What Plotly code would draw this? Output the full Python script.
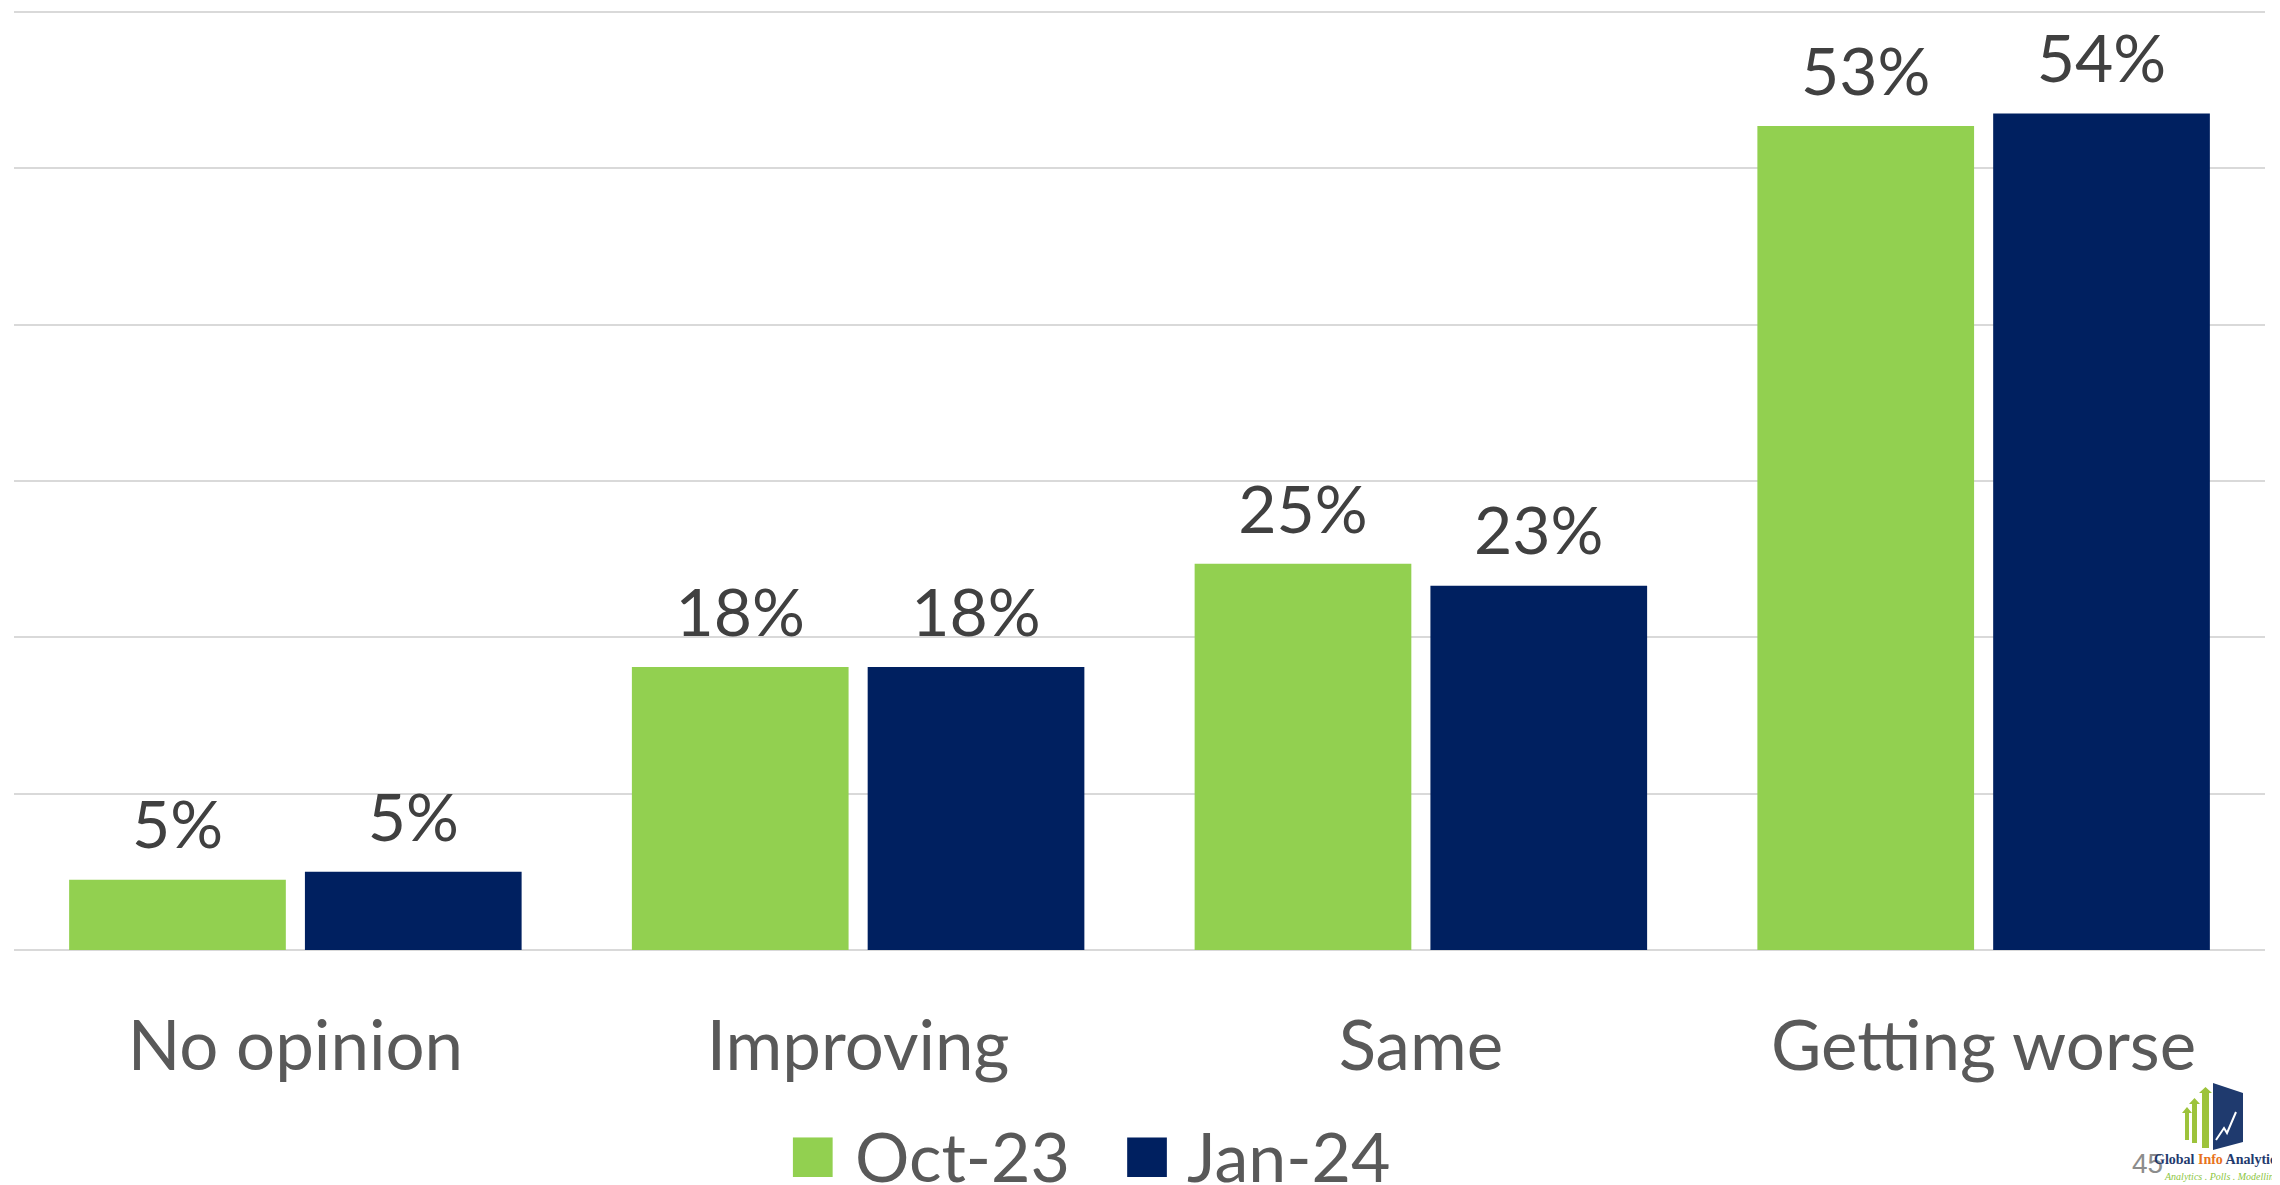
import plotly.graph_objects as go

categories = ["No opinion", "Improving", "Same", "Getting worse"]
oct23 = [4.5, 18.1, 24.7, 52.7]
jan24 = [5.0, 18.1, 23.3, 53.5]
oct23_labels = ["5%", "18%", "25%", "53%"]
jan24_labels = ["5%", "18%", "23%", "54%"]
series_names = ["Oct-23", "Jan-24"]

GREEN = "#92D050"
NAVY = "#002060"
FONT = "Lato"

# page body has an 8px margin; the figure is offset by it
OFF = 8
W, H = 2272, 1177
ML, MR, MT, MB = 6, 15, 2, 235
PW, PH = W - ML - MR, H - MT - MB
YTOP = 60 * PH / 938.0


def px(x):
    return (x - OFF - ML) / PW


def py(y):
    return (H - MB - (y - OFF)) / PH


fig = go.Figure()
for name, vals, col in [
    (series_names[0], oct23, GREEN),
    (series_names[1], jan24, NAVY),
]:
    fig.add_trace(go.Bar(
        x=categories, y=vals, name=name, marker_color=col,
        marker_line_width=0, showlegend=False,
    ))
for name, vals, labs in [
    (series_names[0], oct23, oct23_labels),
    (series_names[1], jan24, jan24_labels),
]:
    fig.add_trace(go.Scatter(
        x=categories, y=vals, name=name, mode="markers+text", text=labs,
        textposition="top center", cliponaxis=False,
        marker=dict(size=22, color="rgba(0,0,0,0)"),
        textfont=dict(family=FONT, size=66, color="#404040"),
        showlegend=False, hoverinfo="skip",
    ))

fig.update_layout(
    width=W, height=H,
    margin=dict(l=ML, r=MR, t=MT, b=MB),
    paper_bgcolor="white", plot_bgcolor="white",
    barmode="group", bargap=0.162, bargroupgap=0.081,
    scattermode="group", scattergap=0.162,
    font=dict(family=FONT),
)
fig.update_yaxes(range=[0, YTOP], tickvals=[0, 10, 20, 30, 40, 50, 60],
                 showticklabels=False,
                 gridcolor="#d9d9d9", gridwidth=2,
                 zeroline=True, zerolinecolor="#d9d9d9", zerolinewidth=2)
fig.update_xaxes(tickfont=dict(family=FONT, size=69, color="#595959"),
                 ticks="", ticklabelstandoff=50, showline=False)

# legend drawn as text
legend_text = (
    f"<span style='color:{GREEN};font-size:82px'>■</span> {series_names[0]}"
    f"&nbsp;&nbsp;&nbsp;<span style='color:{NAVY};font-size:82px'>■</span> {series_names[1]}"
)
fig.add_annotation(x=px(1089), y=py(1150), xref="paper", yref="paper",
                   text=legend_text, showarrow=False,
                   font=dict(family=FONT, size=68, color="#595959"),
                   xanchor="center", yanchor="middle")

# logo (decoration)
fig.add_shape(type="path", xref="paper", yref="paper",
              path=f"M {px(2213)} {py(1083)} L {px(2243)} {py(1093)} L {px(2243)} {py(1142)} L {px(2213)} {py(1150)} Z",
              fillcolor="#1f3a6e", line_width=0)
fig.add_shape(type="path", xref="paper", yref="paper",
              path=f"M {px(2216)} {py(1140)} L {px(2224)} {py(1128)} L {px(2227)} {py(1133)} L {px(2236)} {py(1112)}",
              line=dict(color="white", width=2))
for x0, x1, top, bot in [(2185, 2189, 1107, 1140), (2192, 2197, 1098, 1143), (2202, 2209, 1087, 1148)]:
    cx = (x0 + x1) / 2
    fig.add_shape(type="path", xref="paper", yref="paper",
                  path=(f"M {px(x0)} {py(bot)} L {px(x0)} {py(top+6)} L {px(x0-3)} {py(top+6)} "
                        f"L {px(cx)} {py(top)} L {px(x1+3)} {py(top+6)} L {px(x1)} {py(top+6)} L {px(x1)} {py(bot)} Z"),
                  fillcolor="#9dc33b", line_width=0)
fig.add_annotation(x=px(2130), y=py(1163), xref="paper", yref="paper",
                   text="45", showarrow=False, xanchor="left", yanchor="middle",
                   font=dict(family="Liberation Sans", size=28, color="#8c8c8c"))
fig.add_annotation(x=px(2152), y=py(1159), xref="paper", yref="paper",
                   text=("<b><span style='color:#1f3a6e'>Global </span>"
                         "<span style='color:#e8731c'>Info </span>"
                         "<span style='color:#1f3a6e'>Analytics</span></b>"),
                   showarrow=False, xanchor="left", yanchor="middle",
                   font=dict(family="Liberation Serif", size=14))
fig.add_annotation(x=px(2162), y=py(1176), xref="paper", yref="paper",
                   text="<i>Analytics . Polls . Modelling</i>", showarrow=False,
                   xanchor="left", yanchor="middle",
                   font=dict(family="Liberation Serif", size=10, color="#8dc63f"))

fig.write_html("out.html")
